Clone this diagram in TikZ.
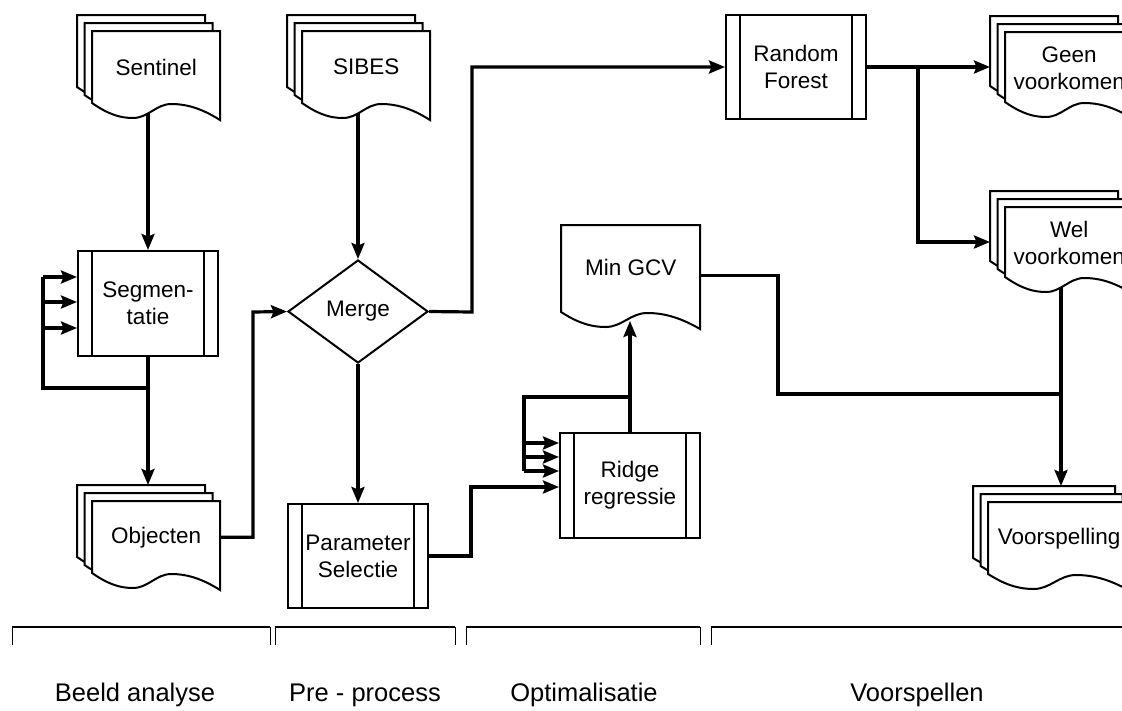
\documentclass[tikz,border=0pt]{standalone}
\usepackage{fontspec}
\setmainfont{Liberation Sans}
\usetikzlibrary{shapes.geometric,arrows.meta}
\pgfdeclarelayer{bgfill}
\pgfdeclarelayer{bg}
\pgfsetlayers{bgfill,bg,main}

% one page of a document shape: x, y (top left), width, left-edge height
\newcommand{\docpage}[4]{%
  \draw[shp, fill=white] ({#1},{#2}) -- ({#1+#3},{#2}) -- ({#1+#3},{#2+#4+17})
    .. controls ({#1+0.84*#3},{#2+#4+4}) and ({#1+0.72*#3},{#2+#4+1}) .. ({#1+0.62*#3},{#2+#4+1})
    .. controls ({#1+0.50*#3},{#2+#4+1}) and ({#1+0.44*#3},{#2+#4+15}) .. ({#1+0.32*#3},{#2+#4+15})
    .. controls ({#1+0.18*#3},{#2+#4+15}) and ({#1+0.08*#3},{#2+#4+7}) .. ({#1},{#2+#4}) -- cycle;}
\newcommand{\multidoc}[4]{%
  \docpage{#1}{#2}{#3}{#4}%
  \docpage{#1+7.5}{#2+8}{#3}{#4}%
  \docpage{#1+15}{#2+16}{#3}{#4}}

\begin{document}
\begin{tikzpicture}[x=1pt,y=-1pt,
  shp/.style={line width=2pt, draw=black, line join=miter},
  conn/.style={line width=3.2pt, draw=black},
  arr/.style={conn, -{Stealth[length=16pt,width=13pt,inset=2.5pt]}},
  txt/.style={font=\fontsize{22.5}{27}\selectfont, align=center, inner sep=0pt},
  lbl/.style={font=\fontsize{25.5}{30}\selectfont, inner sep=0pt},
  docnode/.style={txt, anchor=north west, minimum width=#1, minimum height=72pt},
  procbox/.style={shp, fill=white, txt, minimum width=140pt, minimum height=105pt,
    path picture={
      \draw[line width=2pt] ([xshift=14pt]path picture bounding box.north west) -- ([xshift=14pt]path picture bounding box.south west);
      \draw[line width=2pt] ([xshift=-14pt]path picture bounding box.north east) -- ([xshift=-14pt]path picture bounding box.south east);}},
  decision/.style={shp, fill=white, diamond, txt, minimum width=140pt, minimum height=103pt},
  brk/.style={line width=2pt},
  tick/.style={line width=1pt}
]
\begin{pgfonlayer}{bgfill}
  \fill[white] (0,0) rectangle (1122,710);
\end{pgfonlayer}
\useasboundingbox (0,0) rectangle (1122,710);

% ---------- document shapes ----------
\multidoc{77}{15}{128}{72}
\node[docnode=128pt] (sentinel) at (92,31) {Sentinel};

\multidoc{287}{15}{128}{72}
\node[docnode=128pt] (sibes) at (302,31) {SIBES};

\multidoc{77}{485}{128}{72}
\node[docnode=128pt] (obj) at (92,501) {Objecten};

\docpage{561}{225}{139}{87}
\node[txt, anchor=north west, minimum width=139pt, minimum height=84pt] (gcv) at (561,225) {Min GCV};

\multidoc{990}{16}{128}{70}
\node[docnode=128pt] (geen) at (1005,32) {Geen\\voorkomen};

\multidoc{990}{191}{128}{70}
\node[docnode=128pt] (wel) at (1005,207) {Wel\\voorkomen};

\multidoc{973}{486}{142}{72}
\node[docnode=142pt] (voorsp) at (988,502) {Voorspelling};

% ---------- process boxes and decision ----------
\node[procbox] (segm) at (148,303.5) {Segmen-\\tatie};
\node[procbox, minimum height=104pt] (param) at (358,556) {Parameter\\Selectie};
\node[procbox] (ridge) at (630,485.5) {Ridge\\regressie};
\node[procbox, minimum height=104pt] (rf) at (796,67) {Random\\Forest};
\node[decision] (merge) at (358,311.5) {Merge};

% ---------- helper coordinates ----------
\coordinate (lp) at (43,388);
\coordinate (la1) at (43,277);
\coordinate (la2) at (43,302);
\coordinate (la3) at (43,328);
\coordinate (objtop) at (148,485);
\coordinate (om) at (253,312);
\coordinate (mr) at (472,312);
\coordinate (pr) at (471,487);
\coordinate (gcvin) at (630,321);
\coordinate (rl1) at (630,397);
\coordinate (rl2) at (524,397);
\coordinate (ra1) at (524,443);
\coordinate (ra2) at (524,457);
\coordinate (ra3) at (524,471);
\coordinate (g1) at (778,394);
\coordinate (g2) at (1061,394);
\coordinate (vtop) at (1061,486);
\coordinate (rfj) at (918,67);
\coordinate (geenin) at (990,67);
\coordinate (welin) at (990,242);

% ---------- connectors ----------
\begin{pgfonlayer}{bg}
  \draw[arr] (sentinel.center -| segm.north) -- (segm.north);
  \draw[conn] (segm.south) |- (lp) -- (la1);
  \draw[arr] (la1) -- (la1 -| segm.west);
  \draw[arr] (la2) -- (la2 -| segm.west);
  \draw[arr] (la3) -- (la3 -| segm.west);
  \draw[arr] (segm.south) -- (objtop);
  \draw[arr] (obj.east) -| (om) -- (merge.west);
  \draw[arr] (sibes.center -| merge.north) -- (merge.north);
  \draw[arr] (merge.south) -- (param.north);
  \draw[arr] (merge.east) -- (mr) |- (rf.west);
  \draw[arr] (param.east) -| (pr) -- (pr -| ridge.west);
  \draw[arr] (ridge.north) -- (gcvin);
  \draw[conn] (rl1) -- (rl2) -- (ra3);
  \draw[arr] (ra1) -- (ra1 -| ridge.west);
  \draw[arr] (ra2) -- (ra2 -| ridge.west);
  \draw[arr] (ra3) -- (ra3 -| ridge.west);
  \draw[conn] ([yshift=-8pt]gcv.east) -| (g1) -- (g2);
  \draw[arr] (g2 |- wel.center) -- (vtop);
  \draw[arr] (rf.east) -- (geenin);
  \draw[arr] (rfj) |- (welin);
\end{pgfonlayer}

% ---------- phase brackets ----------
\foreach \a/\b in {12/270, 275/455, 466/700, 711/1140} {
  \draw[brk] (\a,627) -- (\b,627);
  \draw[tick] (\a,627) -- (\a,645);
  \draw[tick] (\b,627) -- (\b,645);
}
\node[lbl] (l1) at (135,695) {Beeld analyse};
\node[lbl] (l2) at (365,695) {Pre - process};
\node[lbl] (l3) at (584,695) {Optimalisatie};
\node[lbl] (l4) at (917,695) {Voorspellen};
\end{tikzpicture}
\end{document}
